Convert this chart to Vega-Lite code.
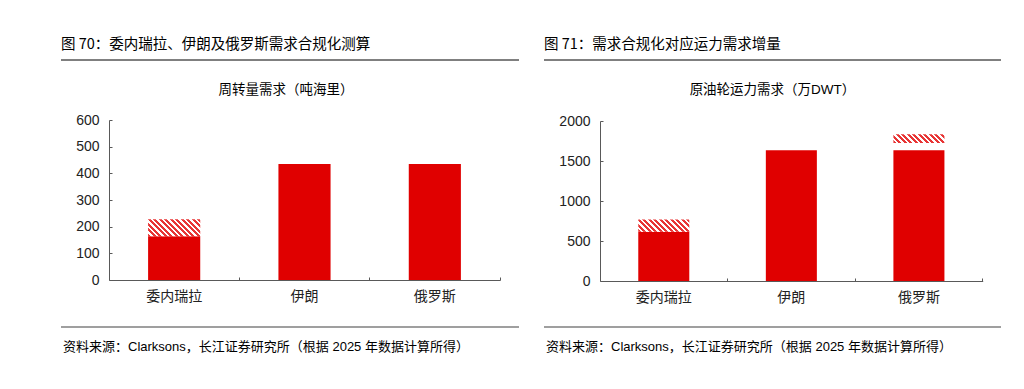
{
  "$schema": "https://vega.github.io/schema/vega-lite/v6.json",
  "padding": {"left": 60, "top": 37, "right": 0, "bottom": 0},
  "spacing": 23,
  "config": {"view": {"stroke": null}},
  "datasets": {
    "left": [
      {"country": "委内瑞拉", "part": "现有", "lo": 0, "hi": 164},
      {"country": "委内瑞拉", "part": "新增", "lo": 164, "hi": 228},
      {"country": "伊朗", "part": "现有", "lo": 0, "hi": 435},
      {"country": "俄罗斯", "part": "现有", "lo": 0, "hi": 435}
    ],
    "right": [
      {"country": "委内瑞拉", "part": "现有", "lo": 0, "hi": 615},
      {"country": "委内瑞拉", "part": "新增", "lo": 615, "hi": 768},
      {"country": "伊朗", "part": "现有", "lo": 0, "hi": 1633},
      {"country": "俄罗斯", "part": "现有", "lo": 0, "hi": 1633},
      {"country": "俄罗斯", "part": "新增", "lo": 1725, "hi": 1834}
    ]
  },
  "hconcat": [
    {
      "width": 458,
      "height": 267,
      "title": {"text": "图 70：委内瑞拉、伊朗及俄罗斯需求合规化测算", "anchor": "start", "frame": "group", "font": "Noto Sans CJK SC", "fontSize": 14.5, "fontWeight": "normal", "color": "#000000", "offset": 7},
      "layer": [
        {
          "data": {"values": [{}]},
          "layer": [
            {"mark": {"type": "rule", "color": "#000000", "strokeWidth": 1},
             "encoding": {"x": {"datum": 0, "type": "quantitative", "scale": {"domain": [0, 1], "nice": false, "zero": false}, "axis": null}, "x2": {"datum": 1}, "y": {"datum": 1, "type": "quantitative", "scale": {"domain": [0, 1], "nice": false, "zero": false}, "axis": null}}},
            {"mark": {"type": "rule", "color": "#7f7f7f", "strokeWidth": 1.3},
             "encoding": {"x": {"datum": 0, "type": "quantitative"}, "x2": {"datum": 1}, "y": {"datum": 0, "type": "quantitative"}}},
            {"mark": {"type": "text", "font": "Noto Sans CJK SC", "fontSize": 13.5, "color": "#000000", "align": "center", "baseline": "middle"},
             "encoding": {"x": {"datum": 0.491, "type": "quantitative"}, "y": {"datum": 0.8876, "type": "quantitative"}, "text": {"value": "周转量需求（吨海里）"}}},
            {"mark": {"type": "text", "font": "Liberation Sans, Noto Sans CJK SC", "fontSize": 13, "color": "#000000", "align": "left", "baseline": "middle"},
             "encoding": {"x": {"datum": 0.0044, "type": "quantitative"}, "y": {"datum": -0.0749, "type": "quantitative"}, "text": {"value": "资料来源：Clarksons，长江证券研究所（根据 2025 年数据计算所得）"}}}
          ]
        },
        {
          "data": {"name": "left"},
          "encoding": {
            "x": {"field": "country", "type": "nominal", "sort": ["委内瑞拉", "伊朗", "俄罗斯"],
                  "scale": {"domain": ["委内瑞拉", "伊朗", "俄罗斯"], "range": [48, 439], "paddingInner": 0.6, "paddingOuter": 0.3},
                  "axis": {"orient": "bottom", "offset": -47, "title": null, "labelAngle": 0, "bandPosition": 1.75, "tickSize": -3, "tickColor": "#595959", "domainColor": "#595959", "labelFont": "Noto Sans CJK SC", "labelFontSize": 14, "labelColor": "#222222", "labelPadding": 12, "grid": false}},
            "y": {"field": "lo", "type": "quantitative",
                  "scale": {"domain": [0, 600], "range": [220, 60], "nice": false, "zero": true},
                  "axis": {"orient": "left", "offset": -48, "title": null, "values": [0, 100, 200, 300, 400, 500, 600], "format": "d", "tickSize": -3, "tickColor": "#595959", "domainColor": "#595959", "labelFont": "Liberation Sans", "labelFontSize": 14, "labelColor": "#222222", "labelPadding": 13, "grid": false}},
            "y2": {"field": "hi"}
          },
          "layer": [
            {"transform": [{"filter": "datum.part === '现有'"}], "mark": {"type": "bar", "fill": "#e00000"}},
            {"transform": [{"filter": "datum.part === '新增'"}], "mark": {"type": "bar", "fill": {"gradient": "linear", "x1": 0, "y1": 1, "x2": 1.5246, "y2": 0.5007, "stops": [
              {"offset": 0, "color": "#e83535"}, {"offset": 0.03125, "color": "#e83535"}, {"offset": 0.03125, "color": "#ffffff"}, {"offset": 0.0625, "color": "#ffffff"},
              {"offset": 0.0625, "color": "#e83535"}, {"offset": 0.09375, "color": "#e83535"}, {"offset": 0.09375, "color": "#ffffff"}, {"offset": 0.125, "color": "#ffffff"},
              {"offset": 0.125, "color": "#e83535"}, {"offset": 0.15625, "color": "#e83535"}, {"offset": 0.15625, "color": "#ffffff"}, {"offset": 0.1875, "color": "#ffffff"},
              {"offset": 0.1875, "color": "#e83535"}, {"offset": 0.21875, "color": "#e83535"}, {"offset": 0.21875, "color": "#ffffff"}, {"offset": 0.25, "color": "#ffffff"},
              {"offset": 0.25, "color": "#e83535"}, {"offset": 0.28125, "color": "#e83535"}, {"offset": 0.28125, "color": "#ffffff"}, {"offset": 0.3125, "color": "#ffffff"},
              {"offset": 0.3125, "color": "#e83535"}, {"offset": 0.34375, "color": "#e83535"}, {"offset": 0.34375, "color": "#ffffff"}, {"offset": 0.375, "color": "#ffffff"},
              {"offset": 0.375, "color": "#e83535"}, {"offset": 0.40625, "color": "#e83535"}, {"offset": 0.40625, "color": "#ffffff"}, {"offset": 0.4375, "color": "#ffffff"},
              {"offset": 0.4375, "color": "#e83535"}, {"offset": 0.46875, "color": "#e83535"}, {"offset": 0.46875, "color": "#ffffff"}, {"offset": 0.5, "color": "#ffffff"},
              {"offset": 0.5, "color": "#e83535"}, {"offset": 0.53125, "color": "#e83535"}, {"offset": 0.53125, "color": "#ffffff"}, {"offset": 0.5625, "color": "#ffffff"},
              {"offset": 0.5625, "color": "#e83535"}, {"offset": 0.59375, "color": "#e83535"}, {"offset": 0.59375, "color": "#ffffff"}, {"offset": 0.625, "color": "#ffffff"},
              {"offset": 0.625, "color": "#e83535"}, {"offset": 0.65625, "color": "#e83535"}, {"offset": 0.65625, "color": "#ffffff"}, {"offset": 0.6875, "color": "#ffffff"},
              {"offset": 0.6875, "color": "#e83535"}, {"offset": 0.71875, "color": "#e83535"}, {"offset": 0.71875, "color": "#ffffff"}, {"offset": 0.75, "color": "#ffffff"},
              {"offset": 0.75, "color": "#e83535"}, {"offset": 0.78125, "color": "#e83535"}, {"offset": 0.78125, "color": "#ffffff"}, {"offset": 0.8125, "color": "#ffffff"},
              {"offset": 0.8125, "color": "#e83535"}, {"offset": 0.84375, "color": "#e83535"}, {"offset": 0.84375, "color": "#ffffff"}, {"offset": 0.875, "color": "#ffffff"},
              {"offset": 0.875, "color": "#e83535"}, {"offset": 0.90625, "color": "#e83535"}, {"offset": 0.90625, "color": "#ffffff"}, {"offset": 0.9375, "color": "#ffffff"},
              {"offset": 0.9375, "color": "#e83535"}, {"offset": 0.96875, "color": "#e83535"}, {"offset": 0.96875, "color": "#ffffff"}, {"offset": 1, "color": "#ffffff"}
            ]}}}
          ]
        }
      ],
      "resolve": {"scale": {"x": "independent", "y": "independent"}, "axis": {"x": "independent", "y": "independent"}}
    },
    {
      "width": 457,
      "height": 267,
      "title": {"text": "图 71：需求合规化对应运力需求增量", "anchor": "start", "frame": "group", "font": "Noto Sans CJK SC", "fontSize": 14.5, "fontWeight": "normal", "color": "#000000", "offset": 7},
      "layer": [
        {
          "data": {"values": [{}]},
          "layer": [
            {"mark": {"type": "rule", "color": "#000000", "strokeWidth": 1},
             "encoding": {"x": {"datum": 0, "type": "quantitative", "scale": {"domain": [0, 1], "nice": false, "zero": false}, "axis": null}, "x2": {"datum": 1}, "y": {"datum": 1, "type": "quantitative", "scale": {"domain": [0, 1], "nice": false, "zero": false}, "axis": null}}},
            {"mark": {"type": "rule", "color": "#7f7f7f", "strokeWidth": 1.3},
             "encoding": {"x": {"datum": 0, "type": "quantitative"}, "x2": {"datum": 1}, "y": {"datum": 0, "type": "quantitative"}}},
            {"mark": {"type": "text", "font": "Liberation Sans, Noto Sans CJK SC", "fontSize": 13.5, "color": "#000000", "align": "center", "baseline": "middle"},
             "encoding": {"x": {"datum": 0.5, "type": "quantitative"}, "y": {"datum": 0.8876, "type": "quantitative"}, "text": {"value": "原油轮运力需求（万DWT）"}}},
            {"mark": {"type": "text", "font": "Liberation Sans, Noto Sans CJK SC", "fontSize": 13, "color": "#000000", "align": "left", "baseline": "middle"},
             "encoding": {"x": {"datum": 0.0044, "type": "quantitative"}, "y": {"datum": -0.0749, "type": "quantitative"}, "text": {"value": "资料来源：Clarksons，长江证券研究所（根据 2025 年数据计算所得）"}}}
          ]
        },
        {
          "data": {"name": "right"},
          "encoding": {
            "x": {"field": "country", "type": "nominal", "sort": ["委内瑞拉", "伊朗", "俄罗斯"],
                  "scale": {"domain": ["委内瑞拉", "伊朗", "俄罗斯"], "range": [56, 438.7], "paddingInner": 0.6, "paddingOuter": 0.3},
                  "axis": {"orient": "bottom", "offset": -46, "title": null, "labelAngle": 0, "bandPosition": 1.75, "tickSize": -3, "tickColor": "#595959", "domainColor": "#595959", "labelFont": "Noto Sans CJK SC", "labelFontSize": 14, "labelColor": "#222222", "labelPadding": 12, "grid": false}},
            "y": {"field": "lo", "type": "quantitative",
                  "scale": {"domain": [0, 2000], "range": [221, 61], "nice": false, "zero": true},
                  "axis": {"orient": "left", "offset": -56, "title": null, "values": [0, 500, 1000, 1500, 2000], "format": "d", "tickSize": -3, "tickColor": "#595959", "domainColor": "#595959", "labelFont": "Liberation Sans", "labelFontSize": 14, "labelColor": "#222222", "labelPadding": 13, "grid": false}},
            "y2": {"field": "hi"}
          },
          "layer": [
            {"transform": [{"filter": "datum.part === '现有'"}], "mark": {"type": "bar", "fill": "#e00000"}},
            {"transform": [{"filter": "datum.part === '新增' && datum.country === '委内瑞拉'"}], "mark": {"type": "bar", "fill": {"gradient": "linear", "x1": 0, "y1": 1, "x2": 1.6305, "y2": 0.6089, "stops": [
              {"offset": 0, "color": "#e83535"}, {"offset": 0.03125, "color": "#e83535"}, {"offset": 0.03125, "color": "#ffffff"}, {"offset": 0.0625, "color": "#ffffff"},
              {"offset": 0.0625, "color": "#e83535"}, {"offset": 0.09375, "color": "#e83535"}, {"offset": 0.09375, "color": "#ffffff"}, {"offset": 0.125, "color": "#ffffff"},
              {"offset": 0.125, "color": "#e83535"}, {"offset": 0.15625, "color": "#e83535"}, {"offset": 0.15625, "color": "#ffffff"}, {"offset": 0.1875, "color": "#ffffff"},
              {"offset": 0.1875, "color": "#e83535"}, {"offset": 0.21875, "color": "#e83535"}, {"offset": 0.21875, "color": "#ffffff"}, {"offset": 0.25, "color": "#ffffff"},
              {"offset": 0.25, "color": "#e83535"}, {"offset": 0.28125, "color": "#e83535"}, {"offset": 0.28125, "color": "#ffffff"}, {"offset": 0.3125, "color": "#ffffff"},
              {"offset": 0.3125, "color": "#e83535"}, {"offset": 0.34375, "color": "#e83535"}, {"offset": 0.34375, "color": "#ffffff"}, {"offset": 0.375, "color": "#ffffff"},
              {"offset": 0.375, "color": "#e83535"}, {"offset": 0.40625, "color": "#e83535"}, {"offset": 0.40625, "color": "#ffffff"}, {"offset": 0.4375, "color": "#ffffff"},
              {"offset": 0.4375, "color": "#e83535"}, {"offset": 0.46875, "color": "#e83535"}, {"offset": 0.46875, "color": "#ffffff"}, {"offset": 0.5, "color": "#ffffff"},
              {"offset": 0.5, "color": "#e83535"}, {"offset": 0.53125, "color": "#e83535"}, {"offset": 0.53125, "color": "#ffffff"}, {"offset": 0.5625, "color": "#ffffff"},
              {"offset": 0.5625, "color": "#e83535"}, {"offset": 0.59375, "color": "#e83535"}, {"offset": 0.59375, "color": "#ffffff"}, {"offset": 0.625, "color": "#ffffff"},
              {"offset": 0.625, "color": "#e83535"}, {"offset": 0.65625, "color": "#e83535"}, {"offset": 0.65625, "color": "#ffffff"}, {"offset": 0.6875, "color": "#ffffff"},
              {"offset": 0.6875, "color": "#e83535"}, {"offset": 0.71875, "color": "#e83535"}, {"offset": 0.71875, "color": "#ffffff"}, {"offset": 0.75, "color": "#ffffff"},
              {"offset": 0.75, "color": "#e83535"}, {"offset": 0.78125, "color": "#e83535"}, {"offset": 0.78125, "color": "#ffffff"}, {"offset": 0.8125, "color": "#ffffff"},
              {"offset": 0.8125, "color": "#e83535"}, {"offset": 0.84375, "color": "#e83535"}, {"offset": 0.84375, "color": "#ffffff"}, {"offset": 0.875, "color": "#ffffff"},
              {"offset": 0.875, "color": "#e83535"}, {"offset": 0.90625, "color": "#e83535"}, {"offset": 0.90625, "color": "#ffffff"}, {"offset": 0.9375, "color": "#ffffff"},
              {"offset": 0.9375, "color": "#e83535"}, {"offset": 0.96875, "color": "#e83535"}, {"offset": 0.96875, "color": "#ffffff"}, {"offset": 1, "color": "#ffffff"}
            ]}}},
            {"transform": [{"filter": "datum.part === '新增' && datum.country === '俄罗斯'"}], "mark": {"type": "bar", "fill": {"gradient": "linear", "x1": 0, "y1": 1, "x2": 1.6756, "y2": 0.7137, "stops": [
              {"offset": 0, "color": "#e83535"}, {"offset": 0.03125, "color": "#e83535"}, {"offset": 0.03125, "color": "#ffffff"}, {"offset": 0.0625, "color": "#ffffff"},
              {"offset": 0.0625, "color": "#e83535"}, {"offset": 0.09375, "color": "#e83535"}, {"offset": 0.09375, "color": "#ffffff"}, {"offset": 0.125, "color": "#ffffff"},
              {"offset": 0.125, "color": "#e83535"}, {"offset": 0.15625, "color": "#e83535"}, {"offset": 0.15625, "color": "#ffffff"}, {"offset": 0.1875, "color": "#ffffff"},
              {"offset": 0.1875, "color": "#e83535"}, {"offset": 0.21875, "color": "#e83535"}, {"offset": 0.21875, "color": "#ffffff"}, {"offset": 0.25, "color": "#ffffff"},
              {"offset": 0.25, "color": "#e83535"}, {"offset": 0.28125, "color": "#e83535"}, {"offset": 0.28125, "color": "#ffffff"}, {"offset": 0.3125, "color": "#ffffff"},
              {"offset": 0.3125, "color": "#e83535"}, {"offset": 0.34375, "color": "#e83535"}, {"offset": 0.34375, "color": "#ffffff"}, {"offset": 0.375, "color": "#ffffff"},
              {"offset": 0.375, "color": "#e83535"}, {"offset": 0.40625, "color": "#e83535"}, {"offset": 0.40625, "color": "#ffffff"}, {"offset": 0.4375, "color": "#ffffff"},
              {"offset": 0.4375, "color": "#e83535"}, {"offset": 0.46875, "color": "#e83535"}, {"offset": 0.46875, "color": "#ffffff"}, {"offset": 0.5, "color": "#ffffff"},
              {"offset": 0.5, "color": "#e83535"}, {"offset": 0.53125, "color": "#e83535"}, {"offset": 0.53125, "color": "#ffffff"}, {"offset": 0.5625, "color": "#ffffff"},
              {"offset": 0.5625, "color": "#e83535"}, {"offset": 0.59375, "color": "#e83535"}, {"offset": 0.59375, "color": "#ffffff"}, {"offset": 0.625, "color": "#ffffff"},
              {"offset": 0.625, "color": "#e83535"}, {"offset": 0.65625, "color": "#e83535"}, {"offset": 0.65625, "color": "#ffffff"}, {"offset": 0.6875, "color": "#ffffff"},
              {"offset": 0.6875, "color": "#e83535"}, {"offset": 0.71875, "color": "#e83535"}, {"offset": 0.71875, "color": "#ffffff"}, {"offset": 0.75, "color": "#ffffff"},
              {"offset": 0.75, "color": "#e83535"}, {"offset": 0.78125, "color": "#e83535"}, {"offset": 0.78125, "color": "#ffffff"}, {"offset": 0.8125, "color": "#ffffff"},
              {"offset": 0.8125, "color": "#e83535"}, {"offset": 0.84375, "color": "#e83535"}, {"offset": 0.84375, "color": "#ffffff"}, {"offset": 0.875, "color": "#ffffff"},
              {"offset": 0.875, "color": "#e83535"}, {"offset": 0.90625, "color": "#e83535"}, {"offset": 0.90625, "color": "#ffffff"}, {"offset": 0.9375, "color": "#ffffff"},
              {"offset": 0.9375, "color": "#e83535"}, {"offset": 0.96875, "color": "#e83535"}, {"offset": 0.96875, "color": "#ffffff"}, {"offset": 1, "color": "#ffffff"}
            ]}}}
          ]
        }
      ],
      "resolve": {"scale": {"x": "independent", "y": "independent"}, "axis": {"x": "independent", "y": "independent"}}
    }
  ]
}
